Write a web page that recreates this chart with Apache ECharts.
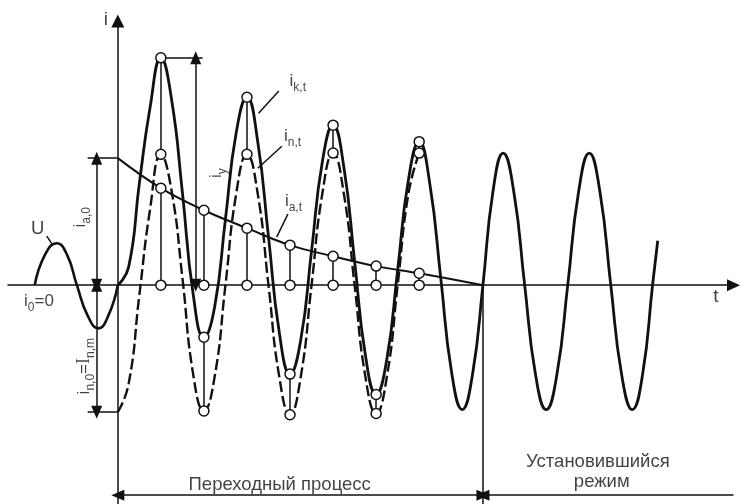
<!DOCTYPE html>
<html><head><meta charset="utf-8">
<script src="https://cdn.jsdelivr.net/npm/echarts@6/dist/echarts.min.js"></script>
<style>html,body{margin:0;padding:0;background:#fff}#c{width:745px;height:504px}</style>
</head><body><div id="c"></div>
<script>
// ---- data (t in ms, current in % of I_n,m) ----
const tVoltage = [-19.3, -16.9, -14.2, -11.8, -9.5, -7, -4.5, -2.2, 0];
const uVoltage = [0, 24, 33, 24, 0, -24, -34, -24, 0];

const tTotal = [0,2.5,5,7.5,10,12.5,15,17.5,20,22.5,25,27.5,30,32.5,35,37.5,40,42.5,45,47.5,50,52.5,55,57.5,60,62.5,65,67.5,70,
  72.5,75,77.5,80,82.4,84.8,87.1,89.5,92,94.5,97,99.5,102,104.5,107,109.5,112,114.5,117,119.5,121.9,124.2,125.4];
const iTotal = [0,14,80,140,179,146,73,-7,-41,-17,52,120,148,113,38,-37,-70,-43,27,97,126,93,19,-55,-86,-58,12,83,113,
  79,6,-68,-98,-70,0,73,104,73,0,-70,-98,-70,0,73,104,73,0,-70,-98,-70,0,35];

const tPeriodic = [0,2.5,5,7.5,10,12.5,15,17.5,20,22.5,25,27.5,30,32.5,35,37.5,40,42.5,45,47.5,50,52.5,55,57.5,60,62.5,65,67.5,70];
const iPeriodic = [-100,-78,-8,60,103,74,6,-70,-99,-72,0,72,103,72,0,-72,-102,-72,0,72,104,72,0,-72,-101,-72,0,72,104];

const tAperiodic = [0, 10, 20, 30, 40, 50, 60, 70, 84.8];
const iAperiodic = [100, 76.4, 59, 44.9, 31.5, 22.8, 15, 9.4, 0];

const markerTimes = [10, 20, 30, 40, 50, 60, 70];
const tTransientEnd = 84.8;

// ---- build ----
const pair = (ts, vs) => ts.map((t, i) => [t, vs[i]]);
const FONT = 'Liberation Sans';
const BLACK = '#111';
const xMin = -25.5, xMax = 143;
const yMin = -172.3, yMax = 208;

const circles = [];
const stems = [];
markerTimes.forEach(t => {
  const k = iTotal[tTotal.indexOf(t)];
  const n = iPeriodic[tPeriodic.indexOf(t)];
  const a = iAperiodic[tAperiodic.indexOf(t)];
  circles.push([t, k], [t, n], [t, a], [t, 0]);
  stems.push([{coord: [t, k]}, {coord: [t, n]}]);
  stems.push([{coord: [t, a]}, {coord: [t, 0]}]);
});
const iA0 = iAperiodic[0];
const iN0 = iPeriodic[0];
const iY = Math.max(...iTotal);
const tY = tTotal[iTotal.indexOf(iY)];

// annotation helper lines (leaders, extension lines)
const helpers = [
  [{coord: [-7, iA0]}, {coord: [0, iA0]}],
  [{coord: [-7, iN0]}, {coord: [0, iN0]}],
  [{coord: [tY, iY]}, {coord: [19.7, iY]}],
  [{coord: [tTransientEnd, 0]}, {coord: [tTransientEnd, yMin]}],
  [{coord: [37.4, 152.8]}, {coord: [32.7, 135.4]}],
  [{coord: [38.1, 109.4]}, {coord: [32.5, 92.1]}],
  [{coord: [39.5, 55.9]}, {coord: [36.9, 37.8]}],
  [{coord: [-16.5, 38.6]}, {coord: [-15.1, 31.5]}]
];
const dimY = -165.4;
const dims = [
  [{coord: [-4.9, 0]}, {coord: [-4.9, iA0]}],
  [{coord: [-4.9, 0]}, {coord: [-4.9, iN0]}],
  [{coord: [18.1, 0]}, {coord: [18.1, iY]}],
  [{coord: [0, dimY]}, {coord: [tTransientEnd, dimY]}]
];
const halfDims = [
  [{coord: [tTransientEnd, dimY]}, {coord: [xMax, dimY]}]
];

const rich = {
  m: {fontFamily: FONT, fontSize: 17, color: BLACK, lineHeight: 21, verticalAlign: 'top'},
  I: {fontFamily: 'Liberation Serif', fontSize: 18, color: BLACK, lineHeight: 21, verticalAlign: 'top'},
  s: {fontFamily: FONT, fontSize: 12, color: BLACK, lineHeight: 12, verticalAlign: 'bottom'},
  big: {fontFamily: FONT, fontSize: 18.5, color: BLACK},
  ax: {fontFamily: FONT, fontSize: 19, color: BLACK}
};
const ann = (t, v, text, rotate) => ({
  value: [t, v],
  label: {show: true, position: 'inside', formatter: text, rotate: rotate || 0, rich: rich}
});
const annotations = [
  ann(-2.8, 209, '{ax|i}'),
  ann(138.9, -9.4, '{ax|t}'),
  ann(-18.6, 44, '{big|U}'),
  ann(-18.3, -14.2, '{m|i}{s|0}{m|=0}'),
  ann(-8.3, 53.5, '{m|i}{s|a,0}', 90),
  ann(-7.4, -63.8, '{m|i}{s|n,0}{m|=}{I|I}{s|n,m}', 90),
  ann(23.4, 88.2, '{m|i}{s|y}', 90),
  ann(41.8, 159, '{m|i}{s|k,t}'),
  ann(40.6, 115.7, '{m|i}{s|n,t}'),
  ann(40.8, 64.6, '{m|i}{s|a,t}'),
  ann(37.6, -157.5, '{big|Переходный процесс}'),
  ann(111.5, -139.4, '{big|Установившийся}'),
  ann(112.4, -155.1, '{big|режим}')
];

const thinLine = {color: BLACK, width: 1.5, type: 'solid'};
const chart = echarts.init(document.getElementById('c'), null, {renderer: 'canvas'});
chart.setOption({
  animation: false,
  backgroundColor: '#fff',
  grid: {left: 8, right: 11.5, top: 21, bottom: 0, outerBoundsMode: 'none'},
  xAxis: {
    type: 'value', min: xMin, max: xMax,
    axisLine: {onZero: true, lineStyle: {color: BLACK, width: 1.5}, symbol: ['none', 'triangle'], symbolSize: [12, 13]},
    axisTick: {show: false}, axisLabel: {show: false}, splitLine: {show: false}
  },
  yAxis: {
    type: 'value', min: yMin, max: yMax,
    axisLine: {onZero: true, lineStyle: {color: BLACK, width: 1.5}, symbol: ['none', 'triangle'], symbolSize: [13, 13]},
    axisTick: {show: false}, axisLabel: {show: false}, splitLine: {show: false}
  },
  series: [
    {
      name: 'U', type: 'line', data: pair(tVoltage, uVoltage), smooth: 0.5, symbol: 'none',
      lineStyle: {color: BLACK, width: 2.6}, clip: false,
      markLine: {silent: true, symbol: ['none', 'none'], label: {show: false}, lineStyle: thinLine, data: helpers}
    },
    {
      name: 'i_n,t', type: 'line', data: pair(tPeriodic, iPeriodic), smooth: 0.5, symbol: 'none',
      lineStyle: {color: BLACK, width: 2.4, type: [11, 4]}, clip: false,
      markLine: {silent: true, symbol: ['triangle', 'none'], symbolSize: [11, 13], label: {show: false}, lineStyle: thinLine, data: halfDims}
    },
    {
      name: 'i_k,t', type: 'line', data: pair(tTotal, iTotal), smooth: 0.5, symbol: 'none',
      lineStyle: {color: BLACK, width: 2.8}, clip: false,
      markLine: {silent: true, symbol: ['triangle', 'triangle'], symbolSize: [11, 13], label: {show: false}, lineStyle: thinLine, data: dims}
    },
    {
      name: 'i_a,t', type: 'line', data: pair(tAperiodic, iAperiodic), smooth: 0.4, symbol: 'none',
      lineStyle: {color: BLACK, width: 2}, clip: false,
      markLine: {silent: true, symbol: ['none', 'none'], label: {show: false}, lineStyle: thinLine, data: stems}
    },
    {
      name: 'markers', type: 'scatter', data: circles, symbol: 'circle', symbolSize: 10, z: 10,
      itemStyle: {color: '#fff', borderColor: BLACK, borderWidth: 1.5, opacity: 1}, silent: true
    },
    {
      name: 'labels', type: 'scatter', data: annotations, symbolSize: 1, clip: false, silent: true, z: 11,
      itemStyle: {color: 'rgba(0,0,0,0)'}
    }
  ]
});
</script></body></html>
